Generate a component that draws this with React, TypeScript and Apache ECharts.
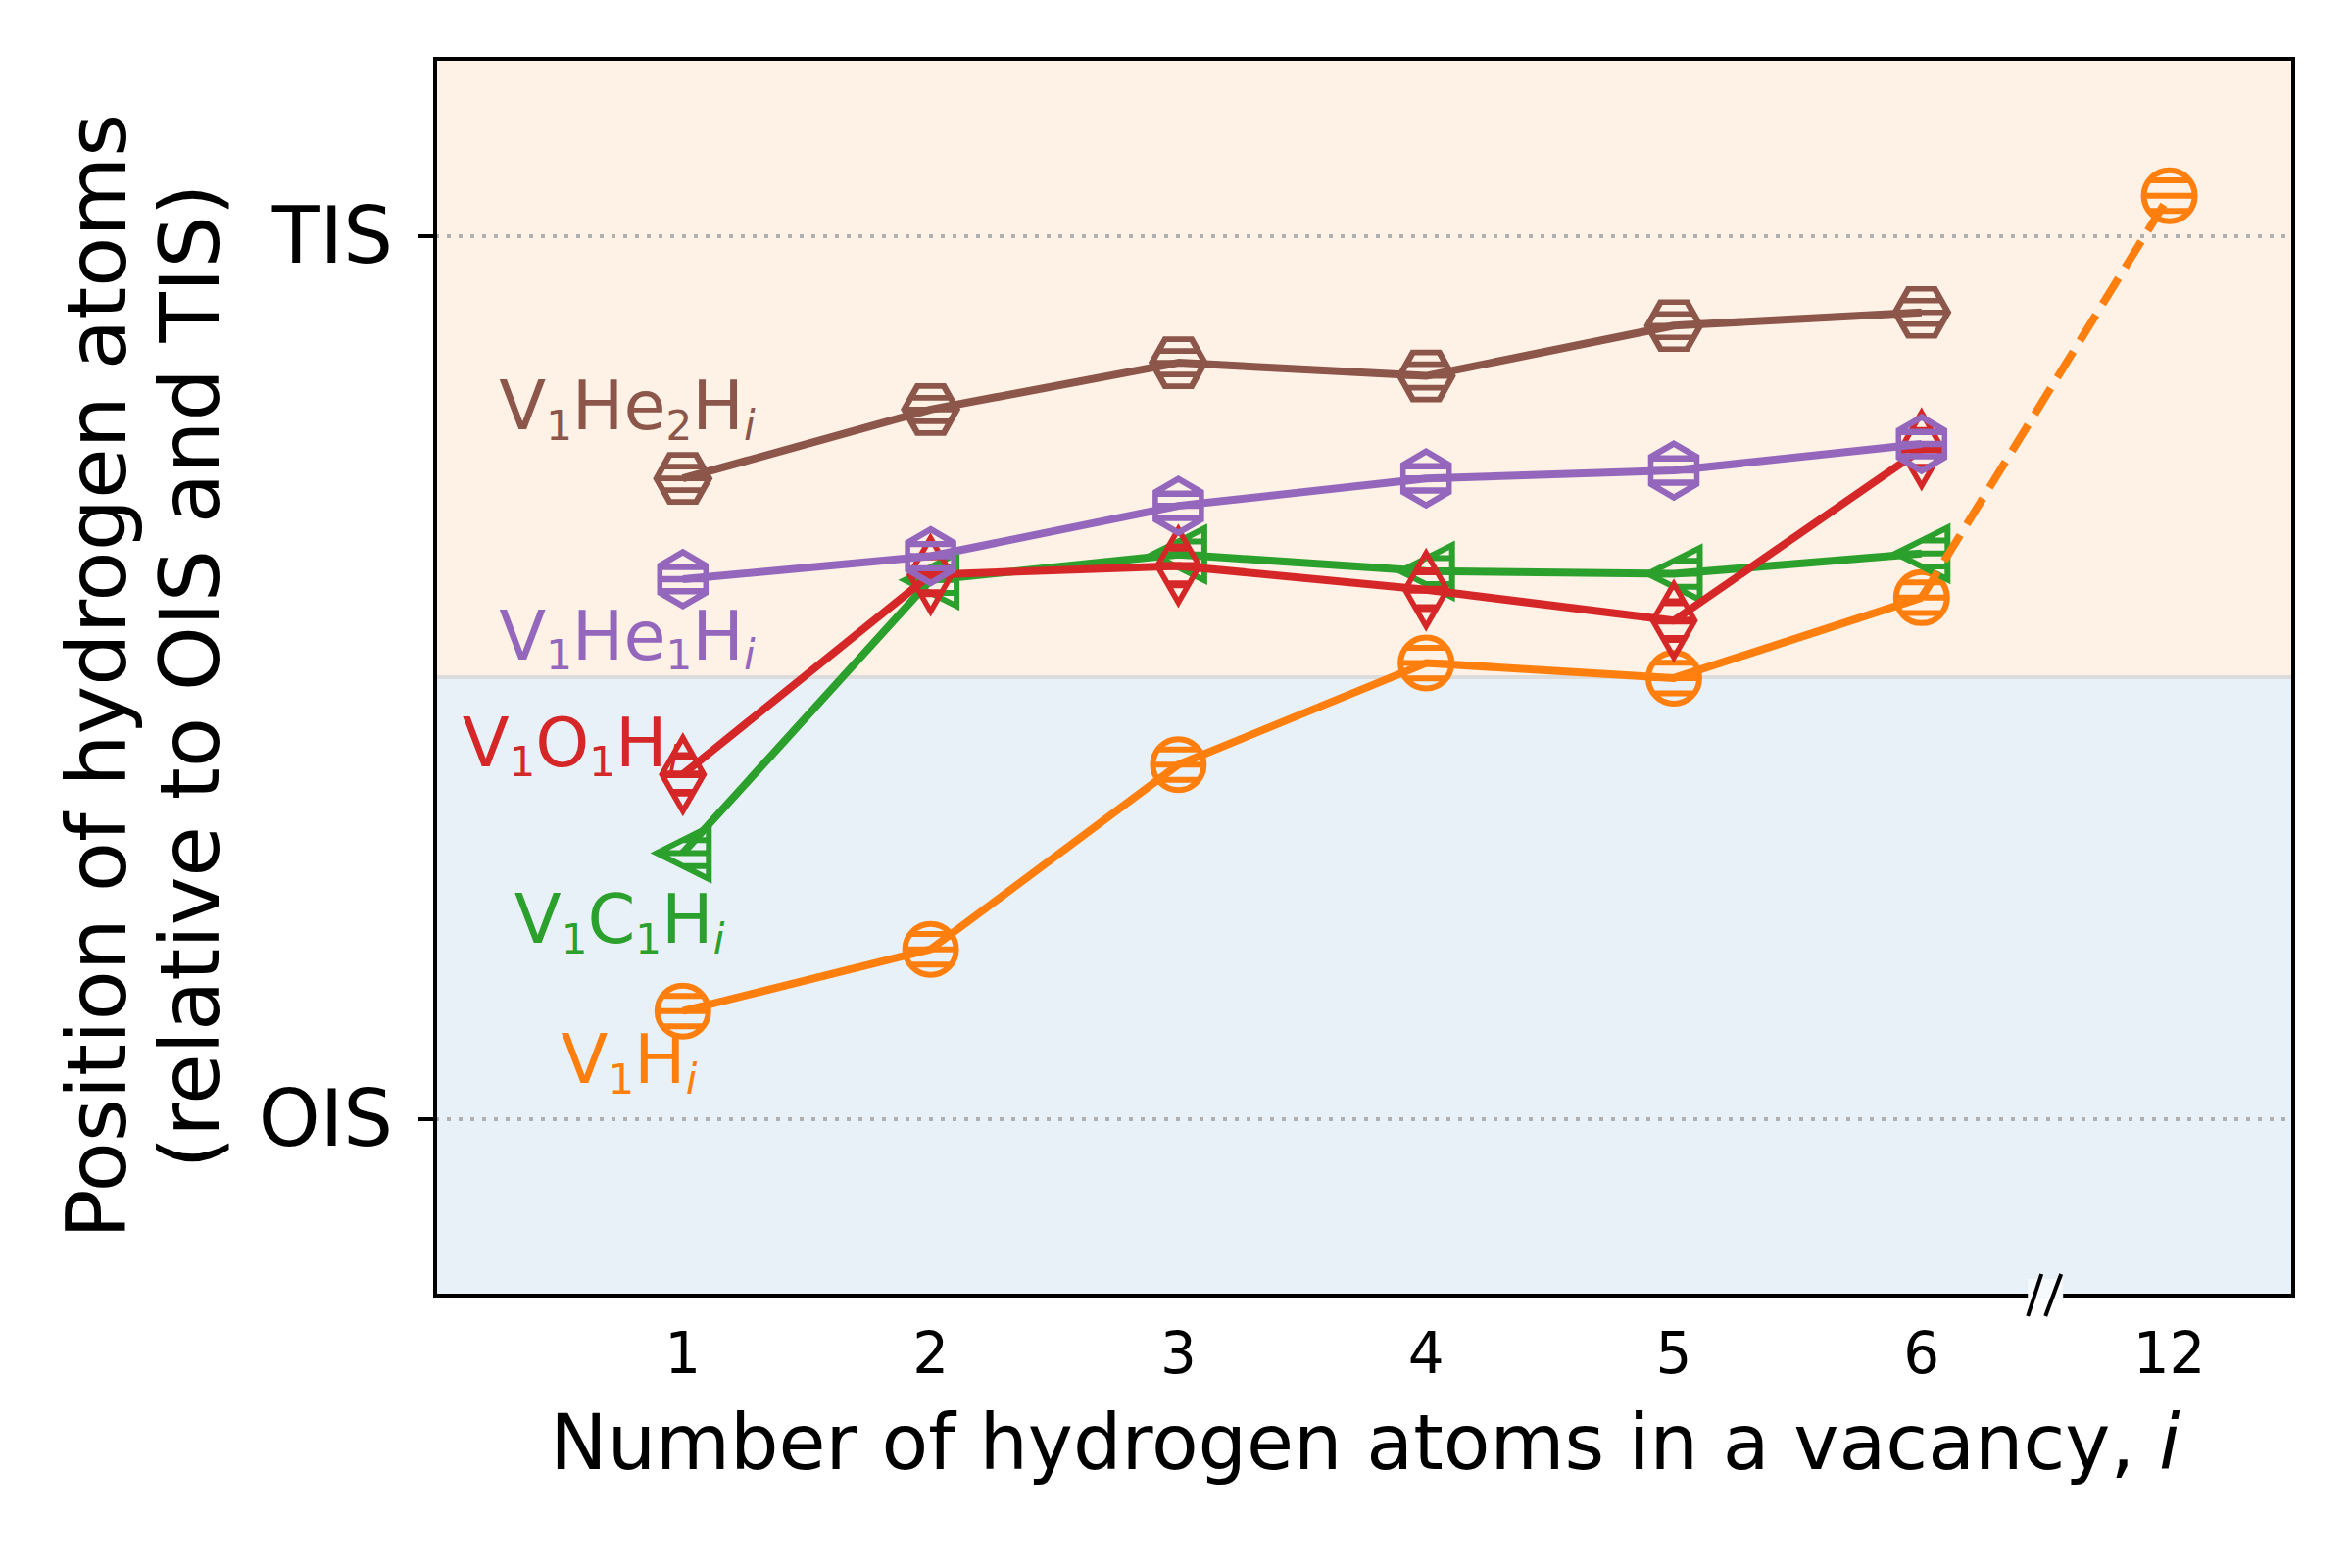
import React, { useEffect, useRef } from 'react';
import * as echarts from 'echarts';

// ---------- data ----------
const xPositions = [1, 2, 3, 4, 5, 6];
const xTickValues = [1, 2, 3, 4, 5, 6, 7];
const xTickLabels = ['1', '2', '3', '4', '5', '6', '12'];
const yTickValues = [0, 1];
const yTickLabels = ['OIS', 'TIS'];
const extraPosition = 7; // axis position of i = 12 (after the axis break)
const breakPosition = 6.5;

const v1H = [0.122, 0.192, 0.401, 0.516, 0.499, 0.59];
const v1H12 = 1.045;
const v1C1H = [0.301, 0.61, 0.639, 0.62, 0.617, 0.64];
const v1O1H = [0.39, 0.616, 0.626, 0.599, 0.564, 0.758];
const v1He1H = [0.611, 0.637, 0.694, 0.725, 0.734, 0.764];
const v1He2H = [0.725, 0.803, 0.856, 0.841, 0.898, 0.913];

const seriesNames = ['V1Hi', 'V1C1Hi', 'V1O1Hi', 'V1He1Hi', 'V1He2Hi'];
const labelTexts = [
  '{n|V}{s|1}{n|H}{i|i}',
  '{n|V}{s|1}{n|C}{s|1}{n|H}{i|i}',
  '{n|V}{s|1}{n|O}{s|1}{n|H}{i|i}',
  '{n|V}{s|1}{n|He}{s|1}{n|H}{i|i}',
  '{n|V}{s|1}{n|He}{s|2}{n|H}{i|i}',
];
const labelX = [0.783, 0.744, 0.546, 0.775, 0.775];
const labelY = [0.068, 0.227, 0.427, 0.548, 0.808];

// region boundaries
const yMin = -0.2;
const yMax = 1.2;
const yBoundary = 0.5;

// ---------- styles ----------
const colors = ['#ff7f0e', '#2ca02c', '#d62728', '#9467bd', '#8c564b'];
const FONT = "'DejaVu Sans', 'Liberation Sans', sans-serif";

const circlePath =
  'path://M0,-1A1,1,0,1,1,0,1A1,1,0,1,1,0,-1ZM-0.8,-0.6L0.8,-0.6M-1,0L1,0M-0.8,0.6L0.8,0.6';
const triLeftPath = 'path://M-1,0L1,-1L1,1ZM0,-0.5L1,-0.5M-1,0L1,0M0,0.5L1,0.5';
const diamondPath = 'path://M0,-1L1,0L0,1L-1,0ZM-0.5,-0.5L0.5,-0.5M-1,0L1,0M-0.5,0.5L0.5,0.5';
const hexPointyPath =
  'path://M0,-1L0.866,-0.5L0.866,0.5L0,1L-0.866,0.5L-0.866,-0.5ZM-0.866,-0.45L0.866,-0.45M-0.866,0L0.866,0M-0.866,0.45L0.866,0.45';
const hexFlatPath =
  'path://M-1,0L-0.5,-0.866L0.5,-0.866L1,0L0.5,0.866L-0.5,0.866ZM-0.75,-0.433L0.75,-0.433M-1,0L1,0M-0.75,0.433L0.75,0.433';

const markerSymbols = [circlePath, triLeftPath, diamondPath, hexPointyPath, hexFlatPath];
const markerSizes = [
  [52, 52],
  [53, 53],
  [43, 75],
  [47, 55],
  [54, 48],
];
const dataSets = [v1H, v1C1H, v1O1H, v1He1H, v1He2H];

const LINE_W = 8;
const EDGE_W = 6;
const GRID = { left: 444, top: 60, width: 1896, height: 1262 };

function buildOption() {
  const lineSeries: any[] = dataSets.map((vals, k) => ({
    type: 'line',
    name: seriesNames[k],
    z: 3 + k,
    data: xPositions.map((x, i) => [x, vals[i]]),
    symbol: markerSymbols[k],
    symbolSize: markerSizes[k],
    showSymbol: true,
    lineStyle: { color: colors[k], width: LINE_W, join: 'round' },
    itemStyle: { color: 'rgba(0,0,0,0)', borderColor: colors[k], borderWidth: EDGE_W, opacity: 1 },
    emphasis: { disabled: true },
    silent: true,
  }));

  // background regions and reference lines
  lineSeries[0].markArea = {
    silent: true,
    z: 1,
    data: [
      [
        { yAxis: yBoundary, itemStyle: { color: '#fef1e6', opacity: 1 } },
        { yAxis: yMax },
      ],
      [
        { yAxis: yMin, itemStyle: { color: '#e9f1f8', opacity: 1 } },
        { yAxis: yBoundary },
      ],
    ],
  };
  lineSeries[0].markLine = {
    silent: true,
    z: 2,
    symbol: ['none', 'none'],
    label: { show: false },
    data: [
      ...yTickValues.map((v) => ({
        yAxis: v,
        lineStyle: { color: '#b0b0b0', width: 4, type: [4, 8] },
      })),
      { yAxis: yBoundary, lineStyle: { color: '#dcdcdc', width: 4, type: 'solid' } },
    ],
  };

  const dashed = {
    type: 'line',
    z: 9,
    data: [
      [xPositions[xPositions.length - 1], v1H[v1H.length - 1]],
      [extraPosition, v1H12],
    ],
    symbol: 'none',
    lineStyle: { color: colors[0], width: LINE_W, type: [31, 13] },
    silent: true,
  };
  const extraMarker = {
    type: 'scatter',
    z: 9,
    data: [[extraPosition, v1H12]],
    symbol: circlePath,
    symbolSize: markerSizes[0],
    itemStyle: { color: 'rgba(0,0,0,0)', borderColor: colors[0], borderWidth: EDGE_W, opacity: 1 },
    emphasis: { disabled: true },
    silent: true,
  };

  const labelSeries = labelTexts.map((txt, k) => ({
    type: 'scatter',
    z: 10,
    silent: true,
    data: [[labelX[k], labelY[k]]],
    symbolSize: 1,
    itemStyle: { color: 'rgba(0,0,0,0)', opacity: 1 },
    emphasis: { disabled: true },
    label: {
      show: true,
      position: 'inside',
      opacity: 1,
      formatter: () => txt,
      rich: {
        n: {
          fontSize: 70,
          lineHeight: 84,
          verticalAlign: 'bottom',
          padding: [0, 0, 6, 0],
          color: colors[k],
          opacity: 1,
          fontFamily: FONT,
        },
        s: {
          fontSize: 42,
          lineHeight: 42,
          verticalAlign: 'bottom',
          color: colors[k],
          opacity: 1,
          fontFamily: FONT,
        },
        i: {
          fontSize: 42,
          lineHeight: 42,
          verticalAlign: 'bottom',
          fontStyle: 'italic',
          color: colors[k],
          opacity: 1,
          fontFamily: FONT,
        },
      },
    },
  }));

  return {
    animation: false,
    backgroundColor: '#ffffff',
    grid: { ...GRID, containLabel: false },
    xAxis: {
      type: 'value',
      min: 0,
      max: 7.5,
      axisLine: { show: false },
      splitLine: { show: false },
      axisTick: {
        show: true,
        customValues: xTickValues,
        length: 17,
        lineStyle: { color: '#000', width: 4 },
      },
      axisLabel: {
        customValues: xTickValues,
        margin: 30,
        fontSize: 58,
        color: '#000',
        fontFamily: FONT,
        formatter: (v: number) => {
          const idx = xTickValues.indexOf(v);
          return idx >= 0 ? xTickLabels[idx] : '';
        },
      },
    },
    yAxis: {
      type: 'value',
      min: yMin,
      max: yMax,
      axisLine: { show: false },
      splitLine: { show: false },
      axisTick: {
        show: true,
        customValues: yTickValues,
        length: 17,
        lineStyle: { color: '#000', width: 4 },
      },
      axisLabel: {
        customValues: yTickValues,
        margin: 43,
        fontSize: 80,
        color: '#000',
        fontFamily: FONT,
        formatter: (v: number) => {
          const idx = yTickValues.indexOf(v);
          return idx >= 0 ? yTickLabels[idx] : '';
        },
      },
    },
    series: [...lineSeries, dashed, extraMarker, ...labelSeries],
  };
}

export default function App() {
  const ref = useRef<HTMLDivElement>(null);
  useEffect(() => {
    if (!ref.current) return;
    const chart = echarts.init(ref.current, null, { renderer: 'svg' });
    chart.setOption(buildOption() as any);
    const [bx, by] = chart.convertToPixel({ gridIndex: 0 } as any, [breakPosition, yMin]) as number[];
    const graphic: any[] = [
      {
        type: 'rect',
        z: 100,
        silent: true,
        shape: { x: GRID.left, y: GRID.top, width: GRID.width, height: GRID.height },
        style: { fill: 'none', stroke: '#000', lineWidth: 4 },
      },
      {
        type: 'rect',
        z: 101,
        silent: true,
        shape: { x: bx - 18, y: by - 17, width: 36, height: 21 },
        style: { fill: '#f7fafc', stroke: 'none' },
      },
      {
        type: 'line',
        z: 102,
        silent: true,
        shape: { x1: bx - 18, y1: by + 21, x2: bx - 4, y2: by - 22 },
        style: { stroke: '#000', lineWidth: 4 },
      },
      {
        type: 'line',
        z: 102,
        silent: true,
        shape: { x1: bx, y1: by + 21, x2: bx + 16, y2: by - 22 },
        style: { stroke: '#000', lineWidth: 4 },
      },
      {
        type: 'text',
        z: 100,
        silent: true,
        x: 146,
        y: 690,
        rotation: Math.PI / 2,
        style: {
          text: 'Position of hydrogen atoms\n(relative to OIS and TIS)',
          align: 'center',
          verticalAlign: 'middle',
          fontSize: 84,
          lineHeight: 95,
          fontFamily: FONT,
          fill: '#000',
        },
      },
      {
        type: 'text',
        z: 100,
        silent: true,
        x: 1393,
        y: 1472,
        style: {
          text: '{a|Number of hydrogen atoms in a vacancy, }{b|i}',
          align: 'center',
          verticalAlign: 'middle',
          rich: {
            a: { fontSize: 78, fontFamily: FONT, fill: '#000' },
            b: { fontSize: 78, fontFamily: FONT, fontStyle: 'italic', fill: '#000' },
          },
        },
      },
    ];
    chart.setOption({ graphic } as any);
    return () => chart.dispose();
  }, []);
  return (
    <div
      ref={ref}
      style={{ position: 'absolute', left: 0, top: 0, width: 2400, height: 1600, background: '#fff' }}
    />
  );
}
